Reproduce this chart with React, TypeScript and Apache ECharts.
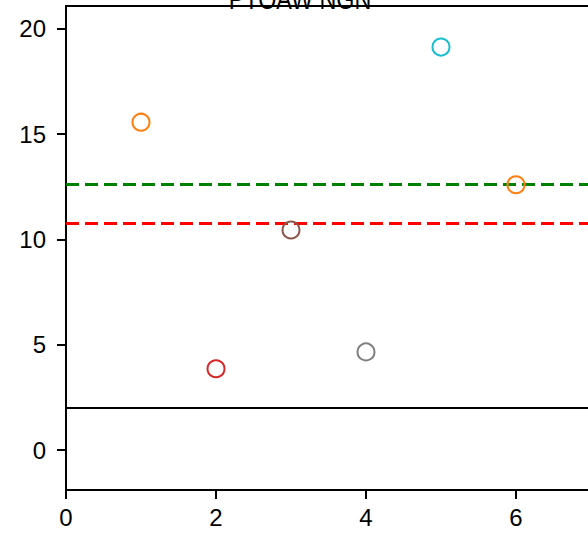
import React, { useEffect, useRef } from "react";
import * as echarts from "echarts";

const pointX = [1, 2, 3, 4, 5, 6];
const pointY = [15.57, 3.86, 10.45, 4.66, 19.14, 12.6];
const pointColors = ["#ff7f0e", "#d62728", "#8c564b", "#7f7f7f", "#17becf", "#ff7f0e"];

const greenLine = 12.6;
const redLine = 10.75;
const blackLine = 2.0;

const xTicks = [0, 2, 4, 6];
const yTicks = [0, 5, 10, 15, 20];
const titleText = "PTOAW NGN";

const FONT = "'Liberation Sans', Arial, sans-serif";

export default function App() {
  const ref = useRef<HTMLDivElement>(null);
  useEffect(() => {
    if (!ref.current) return;
    const chart = echarts.init(ref.current, undefined, { renderer: "svg" });
    const xMax = 534 / 75;
    const yMin = -1.9;
    const yMax = 21.09;
    chart.setOption({
      animation: false,
      grid: {
        left: 66,
        top: 6,
        width: 534,
        height: 484,
        show: true,
        borderColor: "#000",
        borderWidth: 2,
        backgroundColor: "transparent",
      },
      xAxis: {
        type: "value",
        min: 0,
        max: xMax,
        splitLine: { show: false },
        axisLine: { show: true, onZero: false, lineStyle: { color: "#000", width: 2 } },
        axisTick: { show: true, customValues: xTicks, length: 9, lineStyle: { color: "#000", width: 2 } },
        axisLabel: { customValues: xTicks, margin: 15, color: "#000", fontSize: 24, fontFamily: FONT },
      },
      yAxis: {
        type: "value",
        min: yMin,
        max: yMax,
        splitLine: { show: false },
        axisLine: { show: true, onZero: false, lineStyle: { color: "#000", width: 2 } },
        axisTick: { show: true, customValues: yTicks, length: 9, lineStyle: { color: "#000", width: 2 } },
        axisLabel: { customValues: yTicks, margin: 20, color: "#000", fontSize: 24, fontFamily: FONT },
      },
      graphic: [
        {
          type: "text",
          x: 300,
          y: 14,
          scaleX: 0.81,
          z: 100,
          style: {
            text: titleText,
            fontSize: 28.8,
            fontFamily: FONT,
            fill: "#000",
            align: "center",
            verticalAlign: "bottom",
          },
        },
      ],
      series: [
        {
          type: "scatter",
          symbol: "circle",
          symbolSize: 17,
          z: 3,
          data: pointX.map((x, i) => ({
            value: [x, pointY[i]],
            itemStyle: { color: "transparent", borderColor: pointColors[i], borderWidth: 2, opacity: 1 },
          })),
          markLine: {
            silent: true,
            symbol: "none",
            label: { show: false },
            z: 2,
            data: [
              { yAxis: greenLine, lineStyle: { color: "#008000", width: 3, type: [13, 6], opacity: 1 } },
              { yAxis: redLine, lineStyle: { color: "#ff0000", width: 3, type: [13, 6], opacity: 1 } },
              { yAxis: blackLine, lineStyle: { color: "#000000", width: 2, type: "solid", opacity: 1 } },
            ],
          },
        },
      ],
    });
    return () => chart.dispose();
  }, []);
  return (
    <div style={{ position: "fixed", left: 0, top: 0, width: 588, height: 534, overflow: "hidden", background: "#fff" }}>
      <div ref={ref} style={{ width: 600, height: 534 }} />
    </div>
  );
}
